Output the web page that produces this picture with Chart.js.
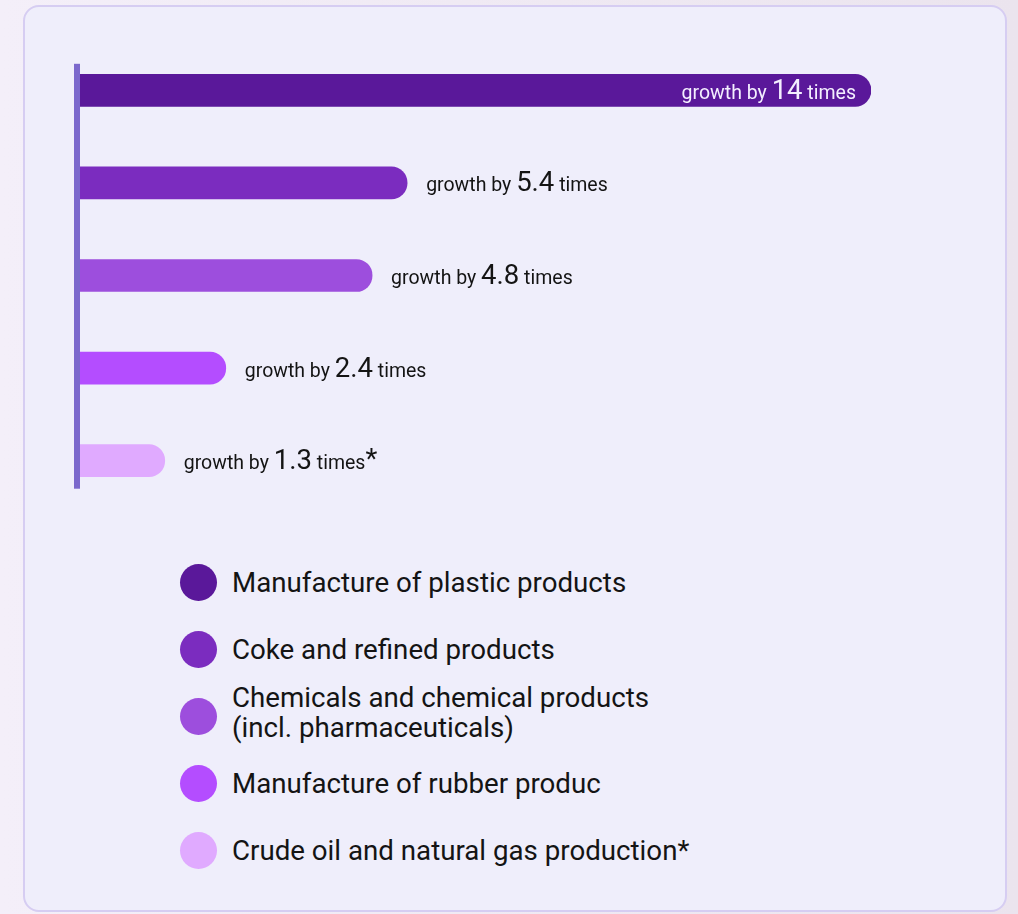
<!DOCTYPE html>
<html lang="en">
<head>
<meta charset="UTF-8">
<title>Growth by industry</title>
<script src="https://cdn.jsdelivr.net/npm/chart.js@4"></script>
<style>
  * { margin: 0; padding: 0; box-sizing: border-box; }
  html, body { width: 1018px; height: 914px; overflow: hidden; }
  body { background: linear-gradient(90deg, #f4eff9, #ebe4ee); font-family: Roboto, 'Liberation Sans', sans-serif; position: relative; }
  .card { position: absolute; left: 23px; top: 5px; width: 984px; height: 907px; background: #efeefb; border: 2px solid #d6cdf2; border-radius: 16px; }
  #chart { position: absolute; left: 0; top: 0; }
  .legend { position: absolute; left: 180px; top: 549px; }
  .item { display: flex; align-items: center; height: 67px; }
  .dot { width: 37px; height: 37px; border-radius: 50%; flex: none; margin-right: 15px; }
  .txt { font-size: 27.7px; line-height: 30px; color: #141414; }
  .two { position: relative; top: -4px; }
</style>
</head>
<body>
<div class="card"></div>
<canvas id="chart" width="1018" height="520"></canvas>
<div class="legend" id="legend"></div>
<script>
  // categories (legend text, top to bottom)
  const categories = [
    'Manufacture of plastic products',
    'Coke and refined products',
    'Chemicals and chemical products\n(incl. pharmaceuticals)',
    'Manufacture of rubber produc',
    'Crude oil and natural gas production*'
  ];
  // growth factors as printed on the labels
  const growth = ['14', '5.4', '4.8', '2.4', '1.3'];
  const labelSuffix = ['', '', '', '', '*'];
  // bar lengths as drawn (same units as the 14x bar)
  const barLength = [14, 5.79, 5.17, 2.58, 1.50];
  const colors = ['#5a189a', '#7b2cbf', '#9d4edd', '#b44dff', '#e0aaff'];

  const axisLine = {
    id: 'axisLine',
    afterDatasetsDraw(chart) {
      const ctx = chart.ctx;
      const bars = chart.getDatasetMeta(0).data;
      const top = bars[0].y - 26.5;
      const bottom = bars[bars.length - 1].y + 28;
      ctx.save();
      ctx.fillStyle = '#7b68cc';
      ctx.fillRect(chart.chartArea.left - 6, top, 6, bottom - top);
      ctx.restore();
    }
  };

  const growthLabels = {
    id: 'growthLabels',
    afterDatasetsDraw(chart) {
      const ctx = chart.ctx;
      const bars = chart.getDatasetMeta(0).data;
      const small = '19.5px Roboto, "Liberation Sans", sans-serif';
      const big = '27.5px Roboto, "Liberation Sans", sans-serif';
      const maxVal = Math.max(...barLength);
      ctx.save();
      ctx.textBaseline = 'alphabetic';
      bars.forEach((bar, i) => {
        const parts = [
          { t: 'growth by ', f: small },
          { t: growth[i], f: big },
          { t: ' times', f: small }
        ];
        if (labelSuffix[i]) parts.push({ t: labelSuffix[i], f: big, dy: -1 });
        let w = 0;
        parts.forEach(p => { ctx.font = p.f; p.w = ctx.measureText(p.t).width; w += p.w; });
        const inside = barLength[i] === maxVal;
        let x = inside ? bar.x - 15 - w : bar.x + 19;
        ctx.fillStyle = inside ? '#f4efff' : '#141414';
        parts.forEach(p => {
          ctx.font = p.f;
          ctx.fillText(p.t, x, bar.y + 8.5 + (p.dy || 0));
          x += p.w;
        });
      });
      ctx.restore();
    }
  };

  new Chart(document.getElementById('chart'), {
    type: 'bar',
    data: {
      labels: categories,
      datasets: [{
        data: barLength,
        backgroundColor: colors,
        barThickness: 32,
        borderRadius: { topRight: 16, bottomRight: 16, topLeft: 0, bottomLeft: 0 },
        borderSkipped: false
      }]
    },
    options: {
      indexAxis: 'y',
      responsive: false,
      animation: false,
      layout: { padding: { left: 80, right: 147, top: 44, bottom: 13 } },
      plugins: { legend: { display: false }, tooltip: { enabled: false } },
      scales: {
        x: { min: 0, max: 14, display: false },
        y: { display: false }
      }
    },
    plugins: [axisLine, growthLabels]
  });

  // legend built from the same arrays
  const legend = document.getElementById('legend');
  categories.forEach((c, i) => {
    const item = document.createElement('div');
    item.className = 'item';
    const dot = document.createElement('span');
    dot.className = 'dot';
    dot.style.background = colors[i];
    const txt = document.createElement('span');
    txt.className = 'txt';
    const lines = c.split('\n');
    if (lines.length > 1) txt.classList.add('two');
    lines.forEach((line, j) => {
      if (j) txt.appendChild(document.createElement('br'));
      txt.appendChild(document.createTextNode(line));
    });
    item.appendChild(dot);
    item.appendChild(txt);
    legend.appendChild(item);
  });
</script>
</body>
</html>
